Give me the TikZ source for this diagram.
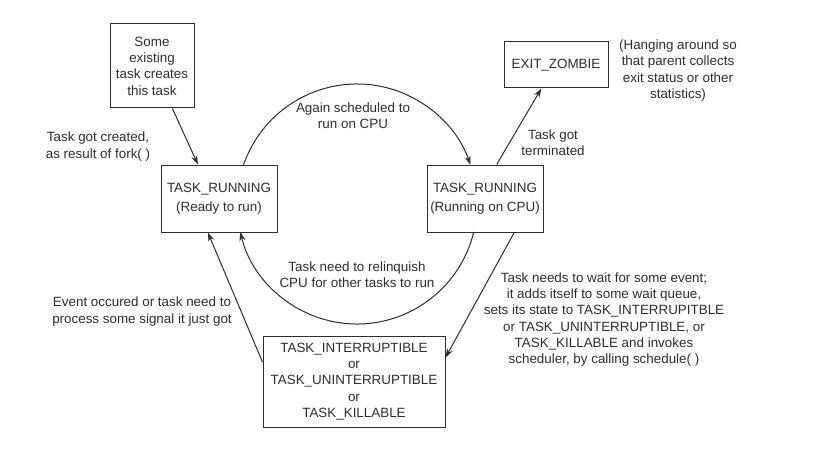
\documentclass[tikz,border=0pt]{standalone}
\usepackage{fontspec}
\setmainfont{Liberation Sans}
\usetikzlibrary{arrows.meta,calc}
\definecolor{ink}{HTML}{2E2E2E}
\begin{document}
\begin{tikzpicture}[x=1pt,y=1pt,
  font=\fontsize{13.4}{16.3}\selectfont,
  state/.style={draw=ink,line width=1pt,text=ink,align=center,inner sep=2pt},
  lbl/.style={text=ink,align=center,inner sep=0pt},
  arr/.style={draw=ink,line width=1pt,-{Stealth[length=9pt,width=6pt]}}]
\useasboundingbox[fill=white] (0,0) rectangle (835,-476);
% boxes
\node[state,minimum width=84,minimum height=84] (some) at (152,-66) {Some\\existing\\task creates\\this task};
\node[state,minimum width=116,minimum height=67] (ready) at (219,-198.5) {TASK\_RUNNING\\[3pt](Ready to run)};
\node[state,minimum width=116,minimum height=67] (running) at (485,-198.5) {TASK\_RUNNING\\[3pt](Running on CPU)};
\node[state,minimum width=104,minimum height=46] (zombie) at (556,-65) {EXIT\_ZOMBIE};
\node[state,minimum width=182,minimum height=91] (wait) at (354,-381.5) {TASK\_INTERRUPTIBLE\\or\\TASK\_UNINTERRUPTIBLE\\or\\TASK\_KILLABLE};
% labels
\node[lbl] (created) at (98,-146.5) {Task got created,\\as result of fork( )};
\node[lbl] (again) at (353,-116) {Again scheduled to\\run on CPU};
\node[lbl] (hanging) at (678,-70.5) {(Hanging around so\\that parent collects\\exit status or other\\statistics)};
\node[lbl] (term) at (553,-143) {Task got\\terminated};
\node[lbl] (relinq) at (357,-275) {Task need to relinquish\\CPU for other tasks to run};
\node[lbl] (event) at (142,-311.5) {Event occured or task need to\\process some signal it just got};
\node[lbl] (waittxt) at (604,-319.5) {Task needs to wait for some event;\\it adds itself to some wait queue,\\sets its state to TASK\_INTERRUPITBLE\\or TASK\_UNINTERRUPTIBLE, or\\TASK\_KILLABLE and invokes\\scheduler, by calling schedule( )};
% coordinates
\coordinate (c) at (357,-204);
\coordinate (s1) at ($(some.south west)!0.74!(some.south east)$);
\coordinate (e1) at ($(ready.north west)!0.32!(ready.north east)$);
\coordinate (s2) at ($(running.north west)!0.60!(running.north east)$);
\coordinate (e2) at ($(zombie.south west)!0.36!(zombie.south east)$);
\coordinate (s3) at ($(running.south west)!0.75!(running.south east)$);
\coordinate (e3) at ($(wait.north east)!0.24!(wait.south east)$);
\coordinate (s4) at ($(wait.north west)!0.29!(wait.south west)$);
\coordinate (e4) at ($(ready.south west)!0.405!(ready.south east)$);
\coordinate (a1) at ($(c)+(161:120)$);
\coordinate (a2) at ($(c)+(-13.5:120)$);
% connectors
\draw[arr] (s1) -- (e1);
\draw[arr] (s2) -- (e2);
\draw[arr] (s3) -- (e3);
\draw[arr] (s4) -- (e4);
\draw[arr] (a1) arc[start angle=161,end angle=19,radius=120];
\draw[arr] (a2) arc[start angle=-13.5,end angle=-166.5,radius=120];
\end{tikzpicture}
\end{document}
